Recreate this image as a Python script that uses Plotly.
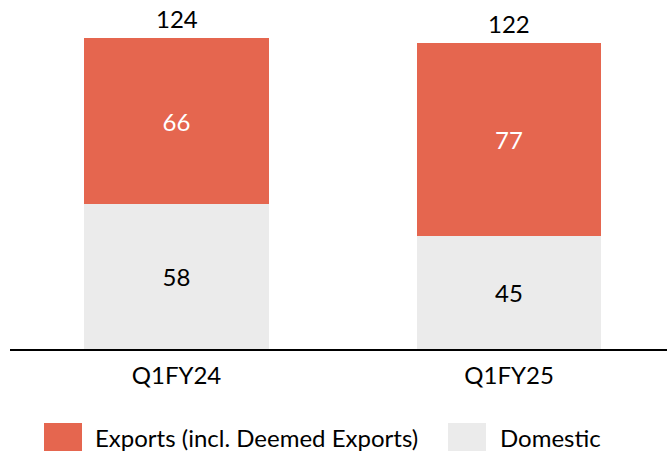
import plotly.graph_objects as go

# Quarterly revenue split
quarters = ["Q1FY24", "Q1FY25"]
domestic = [58, 45]
exports = [66, 77]
series_names = ["Exports (incl. Deemed Exports)", "Domestic"]

EXPORT_COLOR = "#E5664F"
DOMESTIC_COLOR = "#EBEBEB"
FONT = "Lato, 'Open Sans', sans-serif"
FS = 24

totals = [d + e for d, e in zip(domestic, exports)]

fig = go.Figure()
fig.add_trace(go.Bar(
    x=quarters, y=domestic, name=series_names[1],
    marker=dict(color=DOMESTIC_COLOR, line=dict(width=0)),
    text=[str(v) for v in domestic], textposition="inside",
    insidetextanchor="middle",
    textfont=dict(color="black", size=FS, family=FONT),
    width=0.556,
))
fig.add_trace(go.Bar(
    x=quarters, y=exports, name=series_names[0],
    marker=dict(color=EXPORT_COLOR, line=dict(width=0)),
    text=[str(v) for v in exports], textposition="inside",
    insidetextanchor="middle",
    textfont=dict(color="white", size=FS, family=FONT),
    width=0.556,
))

# Totals above each stack
for q, t in zip(quarters, totals):
    fig.add_annotation(x=q, y=t, text=str(t), showarrow=False,
                       yanchor="bottom", yshift=3,
                       font=dict(size=FS, family=FONT, color="black"))

# Legend drawn as large swatches with labels
legend_items = [
    (series_names[0], EXPORT_COLOR, 44, 93),
    (series_names[1], DOMESTIC_COLOR, 448, 498),
]
W, H = 667, 452
for name, color, sx, tx in legend_items:
    fig.add_shape(type="rect", xref="paper", yref="paper",
                  x0=(sx - 10) / (W - 10), x1=(sx + 38 - 10) / (W - 10),
                  y0=-(423 - 349 + 28) / 329, y1=-(423 - 349) / 329,
                  fillcolor=color, line=dict(width=0), layer="above")
    fig.add_annotation(xref="paper", yref="paper",
                       x=(tx - 10) / (W - 10), y=-(437 - 349) / 329,
                       xanchor="left", yanchor="middle", showarrow=False,
                       text=name, font=dict(size=24, family=FONT, color="black"))

fig.update_layout(
    barmode="stack",
    width=W, height=H,
    margin=dict(l=10, r=0, t=20, b=103),
    paper_bgcolor="white", plot_bgcolor="white",
    showlegend=False,
    bargap=0,
    font=dict(family=FONT, size=FS, color="black"),
    uniformtext=dict(mode=False),
)
fig.update_xaxes(
    range=[-0.5008, 1.475],
    showline=True, linecolor="black", linewidth=2,
    showgrid=False, ticks="", tickfont=dict(size=FS, family=FONT),
    ticklabelstandoff=4,
)
fig.update_yaxes(
    range=[0, 131.2], visible=False, showgrid=False,
)

fig.write_html("out.html")
